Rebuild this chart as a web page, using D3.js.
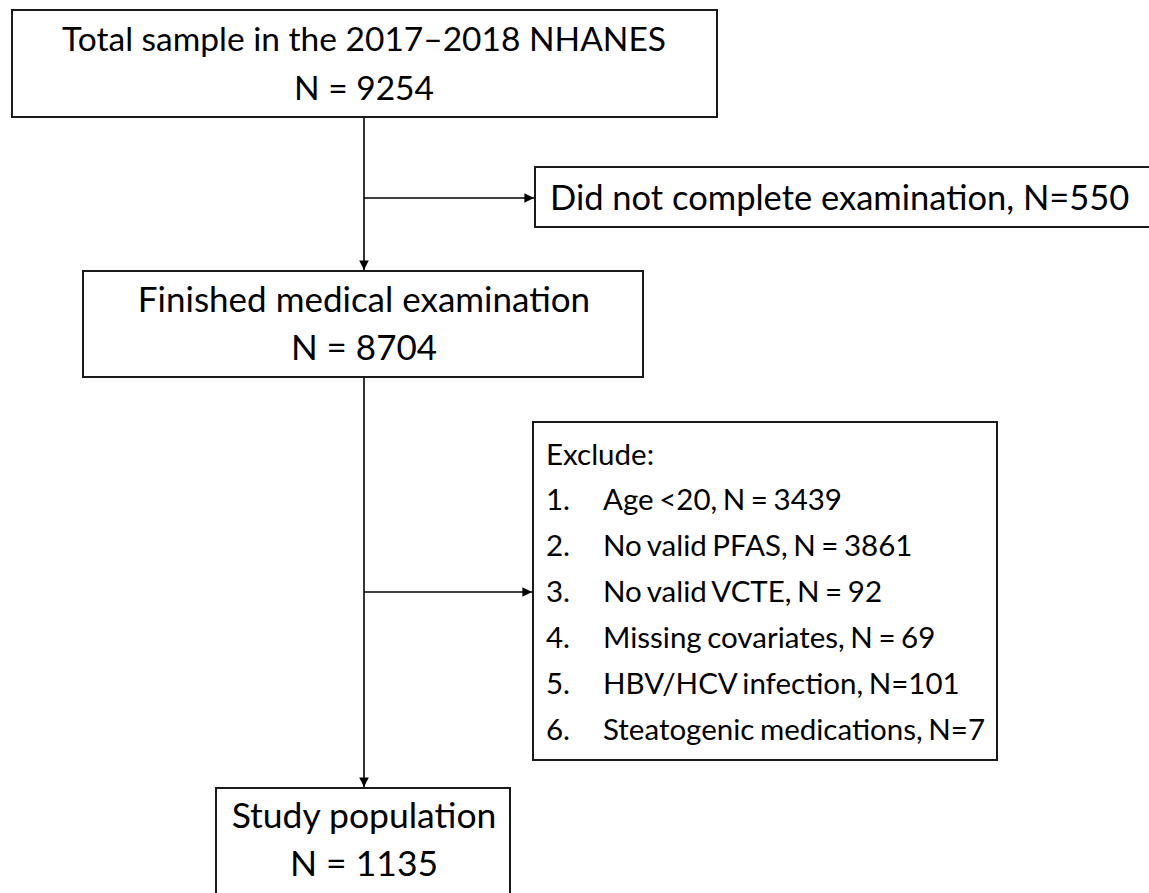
<!DOCTYPE html>
<html>
<head>
<meta charset="utf-8">
<script src="https://cdn.jsdelivr.net/npm/d3@7"></script>
<style>
  html, body { margin: 0; padding: 0; background: #fff; }
  svg text { font-family: Lato, 'Open Sans', sans-serif; fill: #000; }
</style>
</head>
<body>
<div id="chart"></div>
<script>
// flow data
const totalLabel = 'Total sample in the 2017\u20132018 NHANES';
const totalN = 9254;
const notCompletedLabel = 'Did not complete examination';
const notCompletedN = 550;
const finishedLabel = 'Finished medical examination';
const finishedN = 8704;
const excludeReasons = ['Age <20', 'No valid PFAS', 'No valid VCTE', 'Missing covariates', 'HBV/HCV infection', 'Steatogenic medications'];
const excludeCounts = [3439, 3861, 92, 69, 101, 7];
const excludeCompact = [false, false, false, false, true, true]; // "N=101" vs "N = 101"
const studyLabel = 'Study population';
const studyN = 1135;

(function () {
  'use strict';

  const width = 1149;
  const height = 893;
  const spine = 364;

  const svg = d3.select('#chart').append('svg')
    .attr('width', width)
    .attr('height', height);

  svg.append('defs').append('marker')
    .attr('id', 'arrow')
    .attr('viewBox', '0 0 10 10')
    .attr('refX', 10).attr('refY', 5)
    .attr('markerWidth', 6).attr('markerHeight', 6)
    .attr('markerUnits', 'strokeWidth')
    .attr('orient', 'auto')
    .append('path').attr('d', 'M0,0L10,5L0,10Z').attr('fill', '#000');

  const box = function (x, y, w, h) {
    svg.append('rect')
      .attr('x', x).attr('y', y).attr('width', w).attr('height', h)
      .attr('fill', '#fff').attr('stroke', '#1a1a1a').attr('stroke-width', 2);
  };

  const line = function (x1, y1, x2, y2, arrow) {
    svg.append('line')
      .attr('x1', x1).attr('y1', y1).attr('x2', x2).attr('y2', y2)
      .attr('stroke', '#000').attr('stroke-width', 1.6)
      .attr('marker-end', arrow ? 'url(#arrow)' : null);
  };

  const label = function (x, y, txt, size, anchor) {
    svg.append('text')
      .attr('x', x).attr('y', y)
      .attr('text-anchor', anchor || 'middle')
      .style('font-size', size + 'px')
      .text(txt);
  };

  // connectors first so the boxes sit on top
  line(spine, 117, spine, 270, true);
  line(spine, 198, 534, 198, true);
  line(spine, 377, spine, 787, true);
  line(spine, 592, 532, 592, true);

  // total sample
  box(12, 10, 705, 107);
  label(spine, 51, totalLabel, 33.5);
  label(spine, 100, `N = ${totalN}`, 33.5);

  // not completed
  box(535, 167, 630, 60);
  label(550, 210, `${notCompletedLabel}, N=${notCompletedN}`, 34.5, 'start');

  // finished
  box(83, 271, 560, 106);
  label(spine, 312, finishedLabel, 35);
  label(spine, 360, `N = ${finishedN}`, 35);

  // exclusions
  const exSize = 29.5;
  box(533, 422, 464, 338);
  label(546, 465, 'Exclude:', exSize, 'start');
  const rowY = d3.scaleLinear().domain([0, 1]).range([510, 556]);
  const rows = svg.append('g').attr('class', 'excludeRows')
    .selectAll('g')
    .data(excludeReasons.map((r, i) => ({ r: r, n: excludeCounts[i], c: excludeCompact[i], i: i })))
    .enter().append('g');
  rows.append('text')
    .attr('x', 546).attr('y', d => rowY(d.i))
    .style('font-size', exSize + 'px')
    .text(d => `${d.i + 1}.`);
  rows.append('text')
    .attr('x', 603).attr('y', d => rowY(d.i))
    .style('font-size', exSize + 'px')
    .style('word-spacing', '-2px')
    .text(d => d.c ? `${d.r}, N=${d.n}` : `${d.r}, N = ${d.n}`);

  // study population
  box(216, 788, 294, 130);
  label(spine, 828, studyLabel, 35.5);
  label(spine, 876, `N = ${studyN}`, 35.5);
})();
</script>
</body>
</html>
